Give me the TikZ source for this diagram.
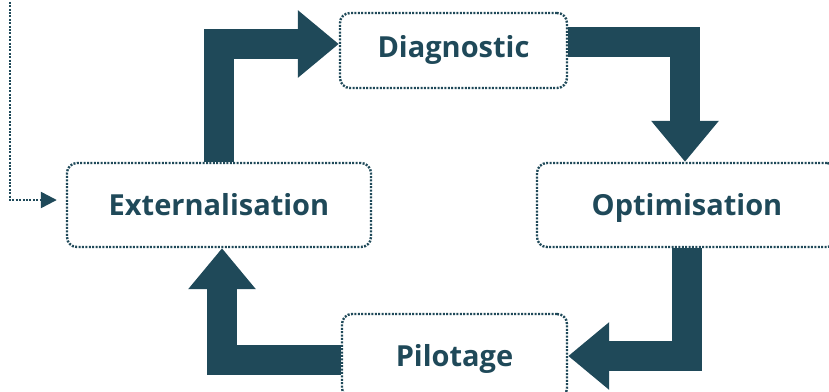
\documentclass[tikz,border=0pt]{standalone}
\usepackage{fontspec}
\setmainfont{Open Sans}
\usetikzlibrary{arrows.meta,calc}
\definecolor{dteal}{RGB}{31,73,89}
\begin{document}
\begin{tikzpicture}[x=1pt,y=-1pt,
  box/.style={draw=dteal, line width=2.4pt, dash pattern=on 2pt off 1.4pt,
    rounded corners=10pt, text=dteal, font=\bfseries\fontsize{29}{32}\selectfont,
    inner sep=0pt, text height=21pt, text depth=0pt},
  flow/.style={draw=dteal, line width=30pt, line join=miter, -{Triangle[width=65pt,length=41pt]}},
  link/.style={draw=dteal, line width=2.4pt, dash pattern=on 2pt off 1.4pt,
    -{Triangle[width=16pt,length=16pt]}}]
\useasboundingbox (0,0) rectangle (829,391);
\node[box, minimum width=227pt, minimum height=75pt, text depth=7pt] (diag) at (453.5,50.5) {Diagnostic};
\node[box, minimum width=304pt, minimum height=84pt] (ext) at (219,205) {Externalisation};
\node[box, minimum width=300pt, minimum height=84pt] (opt) at (687,205) {Optimisation};
\node[box, minimum width=225pt, minimum height=84pt] (pil) at (454.5,356) {Pilotage};
\coordinate (src) at (10,-5);
\draw[flow] (ext.north) |- ($(diag.west)+(0,-6.5)$);
\draw[flow] ($(diag.east)+(0,-9)$) -| ($(opt.north)+(-2,0)$);
\draw[flow] (opt.south) |- (pil.east);
\draw[flow] ($(pil.west)+(0,3.5)$) -| ($(ext.south)+(3,0)$);
\draw[link] (src) |- ($(ext.west)+(-9,-5)$);
\end{tikzpicture}
\end{document}
